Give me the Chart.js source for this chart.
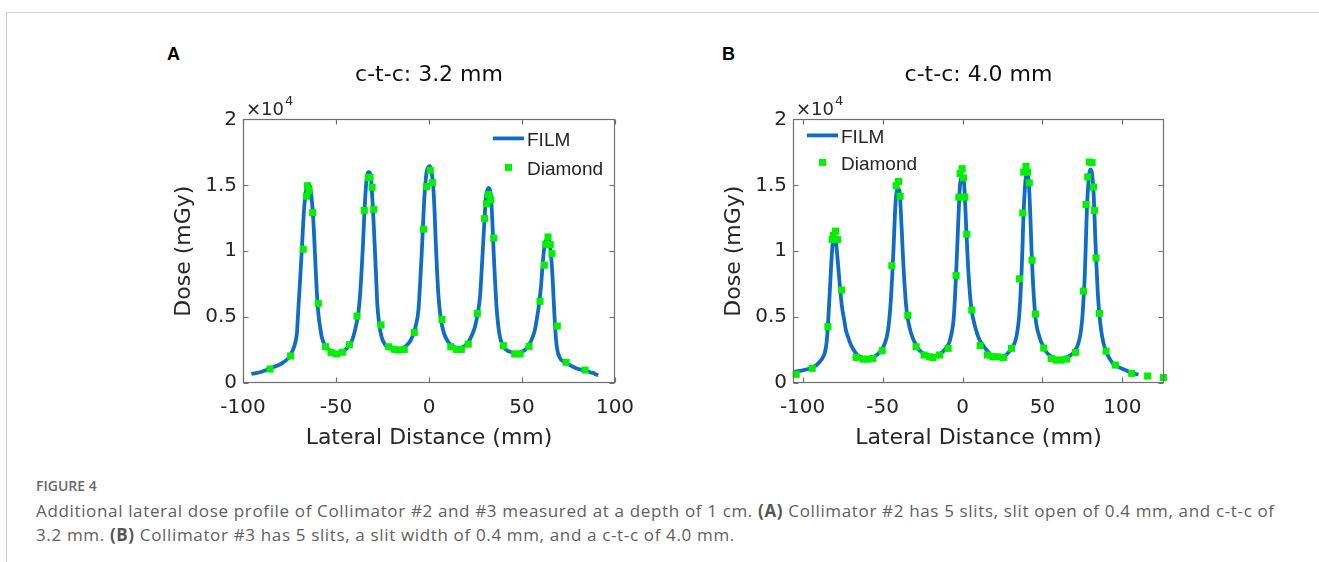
<!DOCTYPE html>
<html>
<head>
<meta charset="utf-8">
<script src="https://cdn.jsdelivr.net/npm/chart.js@4.4.1/dist/chart.umd.min.js"></script>
<style>
  html, body { margin: 0; padding: 0; background: #fff; }
  body { width: 1319px; height: 562px; position: relative; overflow: hidden; font-family: "Open Sans", sans-serif; }
  #frame { position: absolute; left: 6px; top: 12px; right: 0; bottom: 0; border-top: 1px solid #cfcfcf; border-left: 1px solid #cfcfcf; }
  .panel { position: absolute; top: 40px; width: 480px; height: 420px; }
  .letter { position: absolute; top: 44px; font: bold 18px "Liberation Sans", Arial, sans-serif; color: #000; }
  #figLabel { position: absolute; left: 36px; top: 476px; font-size: 14px; font-weight: 600; color: #6a6a6a; }
  #caption { position: absolute; left: 36px; top: 499px; font-size: 17px; line-height: 24px; color: #606060; white-space: nowrap; letter-spacing: 0.65px; }
  #caption b { color: #555; }
</style>
</head>
<body>
<div id="frame"></div>
<div class="letter" style="left:167px">A</div>
<div class="letter" style="left:722px">B</div>
<div class="panel" style="left:160px"><canvas id="chartA" width="480" height="420"></canvas></div>
<div class="panel" style="left:710px"><canvas id="chartB" width="480" height="420"></canvas></div>
<div id="figLabel">FIGURE 4</div>
<div id="caption">Additional lateral dose profile of Collimator #2 and #3 measured at a depth of 1 cm. <b>(A)</b> Collimator #2 has 5 slits, slit open of 0.4 mm, and c-t-c of<br>3.2 mm. <b>(B)</b> Collimator #3 has 5 slits, a slit width of 0.4 mm, and a c-t-c of 4.0 mm.</div>

<script>
// Lateral dose profiles, FILM vs Diamond
// [lateral distance (mm), dose (mGy)]
const filmA = [
  [-95.5,700],[-93,750],[-90,850],[-87,1000],[-84,1200],[-81,1350],[-78,1600],[-75.5,1900],[-73.5,2400],
  [-72,3000],[-71,3800],[-70.3,5500],[-69.3,7800],[-68.5,9800],[-67.2,13100],[-66.2,14500],[-65.3,15000],
  [-64.5,15100],[-63.4,14400],[-62.2,12350],[-61.3,9800],[-60.5,7400],[-59.5,5300],[-58.5,4200],[-57.5,3400],
  [-56,2900],[-54,2550],[-52,2350],[-50,2250],[-48,2280],[-46,2400],[-44,2650],[-42,3000],[-40.5,3600],
  [-39,4500],[-38,5300],[-37,6800],[-36.2,8600],[-35.5,10500],[-34.9,12400],[-33.8,15100],[-32.6,16000],
  [-31.8,15950],[-31,15200],[-30.3,13600],[-29.6,11700],[-29,9800],[-28.3,7600],[-27.8,6000],[-26.8,4500],
  [-25.5,3500],[-23.6,2900],[-21,2650],[-18,2500],[-15,2550],[-12,2850],[-10,3200],[-8.4,3700],[-7,4400],
  [-5.7,5500],[-4.8,7500],[-4,9600],[-3.3,11700],[-2.6,13800],[-1.4,15900],[-0.3,16400],[0.5,16450],
  [1.4,16000],[2.3,14900],[3,13000],[3.6,10800],[4.3,8600],[5,6800],[5.8,5500],[6.8,4500],[8,3800],
  [9.5,3300],[11,3000],[13,2750],[15.5,2650],[17.6,2700],[19.5,2850],[21.2,3100],[23,3600],[24.8,4300],
  [26.2,5300],[27.4,6500],[28.3,8500],[29.2,10800],[30,12800],[30.6,14100],[31.3,14600],[32,14800],
  [32.7,14700],[33.2,14300],[33.7,13300],[34.2,11800],[34.8,9800],[35.5,7800],[36.2,6000],[36.9,4800],
  [38,3600],[39.5,2900],[41.7,2500],[44,2350],[47,2270],[49.5,2350],[51.6,2500],[53.5,2800],[55.2,3300],
  [56.7,3900],[57.9,4800],[59,5800],[60.2,7300],[61,8800],[61.6,9800],[62.4,10600],[63.2,10900],
  [63.9,11000],[64.6,10800],[65.2,10300],[65.9,9200],[66.5,7800],[67.1,6100],[67.7,4500],[68.3,3300],
  [69,2500],[70.4,1900],[72,1650],[74,1500],[76.5,1300],[79.4,1100],[82,1000],[84.7,930],[87,800],
  [88.5,750],[89.8,650],[91,600]
];
const diamondA = [
  [-85.5,1060],[-74.4,2050],[-67.6,10150],[-65.8,14170],[-65.4,14970],[-64.5,14600],[-62.5,12930],
  [-59.5,6040],[-55.6,2750],[-52.7,2320],[-49.7,2200],[-46.6,2330],[-42.8,2900],[-38.7,5080],
  [-34.8,13100],[-32.6,15580],[-31.7,15600],[-30.6,14850],[-29.7,13180],[-25.8,4400],[-21.7,2750],
  [-18.6,2550],[-16.3,2500],[-13.3,2550],[-7.9,3840],[-2.9,11670],[-1.25,14900],[0.7,16140],[1.8,15200],
  [7,4820],[11.7,2750],[14.7,2550],[17.4,2550],[21.1,2950],[26,5280],[29.9,12470],[31,13600],[31.9,14300],
  [33.2,13900],[34.8,11000],[40,2830],[46.1,2200],[49,2200],[53.8,2780],[59.7,6200],[62,8940],[62.8,10530],
  [64,11080],[65.2,10500],[66.1,9820],[69,4320],[73.7,1570],[83.9,980]
];
const filmB = [
  [-106,850],[-100,950],[-95.6,1100],[-92,1300],[-89.4,1600],[-87.5,1900],[-86.2,2250],[-85.3,2800],
  [-84.8,3300],[-84.2,4300],[-83.5,5800],[-82.4,8300],[-81.4,10300],[-80.4,11000],[-79.4,10900],
  [-78.4,9800],[-77.7,8800],[-77,7800],[-75.4,5800],[-74,4800],[-72.9,4000],[-71,3300],[-69.8,2900],
  [-67.5,2400],[-65.6,2120],[-63,1950],[-60.4,1870],[-57.5,1900],[-55.2,2000],[-52.5,2250],[-50,2630],
  [-48.3,3100],[-46.9,3760],[-45.8,4800],[-44.8,6300],[-43.9,8200],[-43.1,10300],[-41.9,13600],
  [-40.6,14750],[-39.4,14600],[-38.5,12860],[-37.7,10800],[-36.9,8800],[-35.2,5780],[-33.8,4600],
  [-32.1,3760],[-30,3100],[-28,2630],[-25,2300],[-22.6,2120],[-20,2060],[-17.4,2050],[-15,2150],
  [-12.3,2370],[-10,2700],[-8.1,3130],[-6.8,3800],[-5.6,4770],[-4.8,6300],[-4,8300],[-3.3,10300],
  [-2.7,12100],[-1.5,15100],[-0.2,15600],[1,15100],[1.7,13500],[2.3,11800],[3,10000],[3.75,8300],
  [5.4,5780],[6.8,4800],[8.5,4000],[10.5,3300],[12.7,2880],[15,2500],[17.9,2120],[20.5,1950],[23.1,1870],
  [25.5,1950],[28.3,2250],[30.5,2600],[32.5,3000],[34,3700],[35.2,4770],[36.1,6300],[36.9,8300],
  [37.5,10300],[38.1,12600],[39.4,15400],[40.4,15900],[41.5,15100],[42.5,12400],[43.2,10000],[44,7800],
  [45.6,5000],[48.1,3500],[50,2900],[52.3,2370],[55,2050],[57.5,1870],[60,1820],[62.7,1870],[65.5,1980],
  [67.9,2120],[70.2,2450],[72.1,2880],[73.6,3600],[74.8,4770],[75.7,6400],[76.5,8300],[77.1,10500],
  [77.7,12860],[79,15630],[80,16200],[81,15900],[82.1,14100],[82.6,12500],[83.1,10800],[83.8,8800],
  [84.6,6800],[85.6,5200],[86.7,4000],[88,3100],[89.8,2370],[92,1850],[94,1500],[97,1250],[100.2,1060],
  [103,920],[105.4,800],[108.5,680],[110,640]
];
const diamondB = [
  [-104,660],[-94,1110],[-84.2,4270],[-81.5,10880],[-80.8,11200],[-79.4,11520],[-78.1,10880],[-75.6,7050],
  [-66.5,1940],[-62.3,1810],[-59.2,1810],[-56.1,1860],[-50.2,2450],[-44.2,8900],[-41.5,14970],[-40,15300],
  [-39,14170],[-34.2,5130],[-29,2750],[-24,2120],[-20.6,1990],[-18.5,1920],[-14.4,2120],[-9,2630],
  [-4,8160],[-2.3,14100],[-1.5,15890],[-0.2,16260],[0.6,15560],[1.5,14100],[2.7,11290],[5.8,5530],
  [11,2830],[15.6,2120],[19,1990],[21.8,1990],[25.6,1920],[30.6,2630],[35.6,7900],[37.7,12900],
  [38.3,16000],[39.7,16440],[40.7,16000],[41.8,15180],[43.5,9320],[45.6,5230],[50.8,2650],[55.4,1860],
  [58.5,1740],[61.6,1740],[65.2,1810],[70.6,2320],[75.6,6970],[77.3,13540],[78.3,15630],[79.4,16770],
  [81,16720],[81.9,14870],[82.5,13100],[83.5,9490],[85.6,5280],[89.8,2410],[95.6,1360],[105.8,730],
  [115.8,530],[125.6,410]
];
const titles = ['c-t-c: 3.2 mm', 'c-t-c: 4.0 mm'];
const seriesNames = ['FILM', 'Diamond'];
const xTickStep = 50;
const yTickStep = 5000;

const filmColor = '#0f6ec4';
const diamondColor = '#00f000';
const axisColor = '#6f6f6f';
const inkColor = '#262626';
const wideFont = '"DejaVu Sans", sans-serif';
const textFont = '"Liberation Sans", Arial, sans-serif';

// box with inward ticks on all four sides, plus x10^4 and legend
const matlabAxes = {
  id: 'matlabAxes',
  afterDatasetsDraw(chart, args, opts) {
    const ctx = chart.ctx;
    const a = chart.chartArea;
    const xs = chart.scales.x, ys = chart.scales.y;
    const L = Math.round(a.left) + 0.5, R = Math.round(a.right) - 0.5;
    const T = Math.round(a.top) + 0.5, B = Math.round(a.bottom) - 0.5;
    ctx.save();
    ctx.strokeStyle = axisColor;
    ctx.lineWidth = 1.2;
    ctx.strokeRect(L, T, R - L, B - T);
    ctx.beginPath();
    xs.ticks.forEach(t => {
      const p = Math.round(xs.getPixelForValue(t.value)) + 0.5;
      ctx.moveTo(p, B); ctx.lineTo(p, B - 5);
      ctx.moveTo(p, T); ctx.lineTo(p, T + 5);
    });
    ys.ticks.forEach(t => {
      const p = Math.round(ys.getPixelForValue(t.value)) + 0.5;
      ctx.moveTo(L, p); ctx.lineTo(L + 5, p);
      ctx.moveTo(R, p); ctx.lineTo(R - 5, p);
    });
    ctx.stroke();

    // exponent label
    ctx.fillStyle = inkColor;
    ctx.textBaseline = 'middle';
    ctx.textAlign = 'left';
    ctx.font = '18px ' + wideFont;
    ctx.fillText('\u00d710', a.left + 3, a.top - 9);
    const w = ctx.measureText('\u00d710').width;
    ctx.font = '13px ' + wideFont;
    ctx.fillText('4', a.left + 4 + w, a.top - 18);

    // legend
    const lg = opts.legend;
    const lx = opts.legendRight ? a.right - lg.fromRight : a.left + lg.fromLeft;
    ctx.strokeStyle = filmColor;
    ctx.lineWidth = 3.8;
    ctx.beginPath();
    ctx.moveTo(lx, a.top + lg.row1);
    ctx.lineTo(lx + 31, a.top + lg.row1);
    ctx.stroke();
    ctx.fillStyle = diamondColor;
    ctx.fillRect(lx + 15.5 - 3.5, a.top + lg.row2 - 3.5, 7, 7);
    ctx.fillStyle = inkColor;
    ctx.font = '19px ' + textFont;
    ctx.fillText(seriesNames[0], lx + 34, a.top + lg.row1 + 2);
    ctx.fillText(seriesNames[1], lx + 34, a.top + lg.row2 + 2);
    ctx.restore();
  }
};

function makePanel(canvasId, film, diamond, xMin, xMax, title, plotRight, legendOpts, legendRight) {
  const ctx = document.getElementById(canvasId).getContext('2d');
  return new Chart(ctx, {
    type: 'line',
    data: {
      datasets: [
        {
          label: seriesNames[0],
          data: film.map(p => ({x: p[0], y: p[1]})),
          borderColor: filmColor,
          borderWidth: 3.8,
          pointRadius: 0,
          cubicInterpolationMode: 'monotone',
          fill: false,
          order: 2
        },
        {
          label: seriesNames[1],
          data: diamond.map(p => ({x: p[0], y: p[1]})),
          showLine: false,
          pointStyle: 'rect',
          pointRadius: 5,
          pointBorderWidth: 0,
          pointBackgroundColor: diamondColor,
          pointBorderColor: diamondColor,
          clip: false,
          order: 1
        }
      ]
    },
    plugins: [matlabAxes],
    options: {
      responsive: false,
      animation: false,
      devicePixelRatio: 1,
      layout: { padding: { left: 0, right: 480 - plotRight, top: 0, bottom: 0 } },
      plugins: {
        legend: { display: false },
        tooltip: { enabled: false },
        title: {
          display: true,
          text: title,
          fullSize: false,
          color: '#111',
          font: { family: wideFont, size: 22, weight: 'normal' },
          padding: { top: 22, bottom: 31 }
        },
        matlabAxes: { legend: legendOpts, legendRight: legendRight }
      },
      scales: {
        x: {
          type: 'linear',
          min: xMin,
          max: xMax,
          afterFit: s => { s.height = 77; },
          grid: { display: false, drawTicks: true, tickLength: 9 },
          border: { display: false },
          ticks: {
            stepSize: xTickStep,
            includeBounds: false,
            maxRotation: 0,
            padding: 4,
            color: inkColor,
            font: { family: wideFont, size: 20 }
          },
          title: {
            display: true,
            text: 'Lateral Distance (mm)',
            color: inkColor,
            font: { family: wideFont, size: 22 },
            padding: { top: 0, bottom: 9 }
          }
        },
        y: {
          min: 0,
          max: 20000,
          afterFit: s => { s.width = 83; },
          grid: { display: false, drawTicks: false },
          border: { display: false },
          ticks: {
            stepSize: yTickStep,
            padding: 6,
            color: inkColor,
            font: { family: wideFont, size: 20 },
            callback: v => (v / 10000).toString()
          },
          title: {
            display: true,
            text: 'Dose (mGy)',
            color: inkColor,
            font: { family: wideFont, size: 22 },
            padding: { top: 11, bottom: 0 }
          }
        }
      }
    }
  });
}

makePanel('chartA', filmA, diamondA, -100, 100, titles[0], 455,
  { fromRight: 122, row1: 19, row2: 48 }, true);
makePanel('chartB', filmB, diamondB, -106, 126, titles[1], 454,
  { fromLeft: 14, row1: 16, row2: 43 }, false);
</script>
</body>
</html>
